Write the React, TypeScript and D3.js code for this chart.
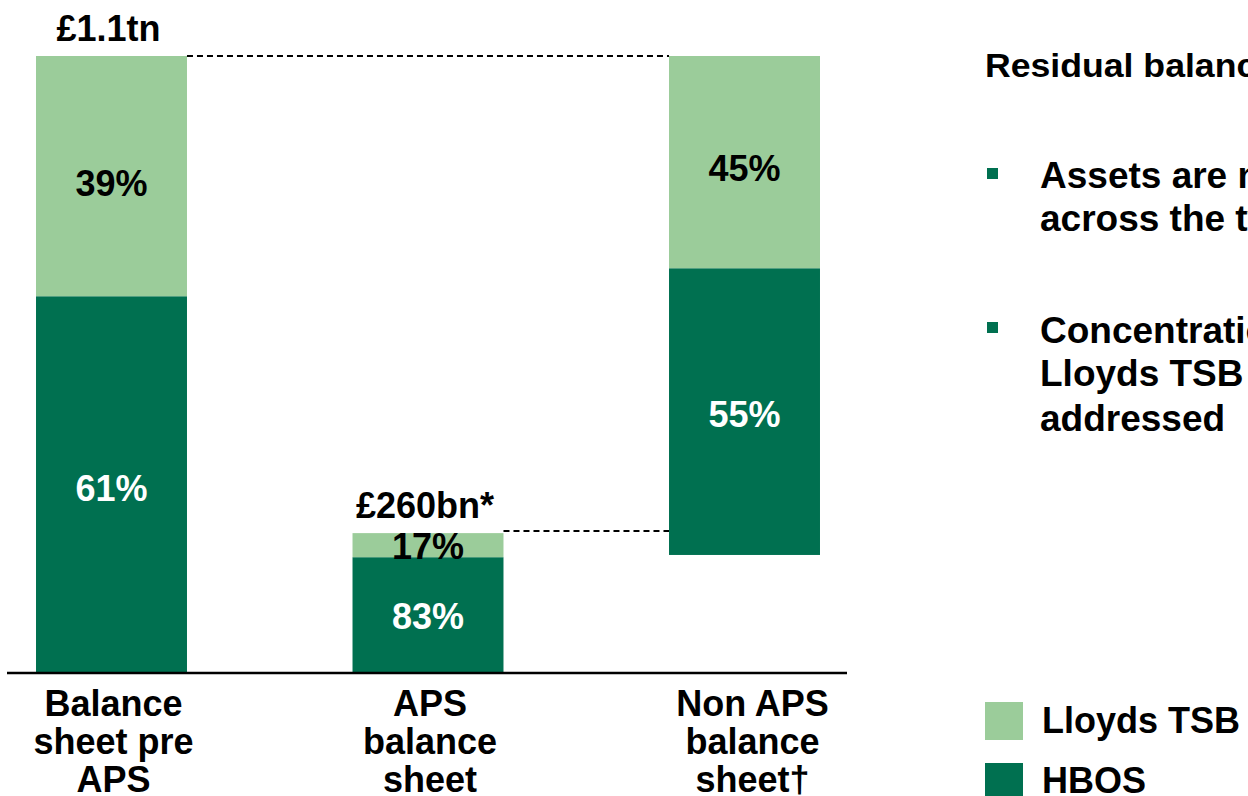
import React from "react";
import * as d3 from "d3";

const categories = ["Balance sheet pre APS", "APS balance sheet", "Non APS balance sheet†"];
const categoryLines = [["Balance", "sheet pre", "APS"], ["APS", "balance", "sheet"], ["Non APS", "balance", "sheet†"]];
// values in £bn (bar heights)
const baseValues = [0, 0, 209];
const hbosValues = [671, 205, 512];
const lloydsValues = [429, 43, 379];
const hbosLabels = ["61%", "83%", "55%"];
const lloydsLabels = ["39%", "17%", "45%"];
const totalLabels = ["£1.1tn", "£260bn*", ""];
const connectorLevels = [1100, 252];
const connectorFrom = [0, 1];
const legendItems = ["Lloyds TSB", "HBOS"];

const LIGHT = "#9BCC9A";
const DARK = "#007050";
const FONT = "'Liberation Sans', Arial, sans-serif";

export default function App() {
  const W = 1248, H = 796;
  const x = d3.scaleBand<string>().domain(categories).range([8, 848]).paddingInner(0.523).paddingOuter(0.0885);
  const y = d3.scaleLinear().domain([0, 1100]).range([672, 56]);
  const bw = x.bandwidth();

  return (
    <svg width={W} height={H} style={{ position: "absolute", left: 0, top: 0, overflow: "hidden" }} fontFamily={FONT} fontWeight="bold">
      <rect width={W} height={H} fill="#fff" />
      {categories.map((c, i) => {
        const x0 = x(c)!;
        const cx = x0 + bw / 2;
        const b = baseValues[i];
        const h = hbosValues[i];
        const l = lloydsValues[i];
        const yHb = y(b + h);
        const yTop = y(b + h + l);
        return (
          <g key={c}>
            <rect x={x0} y={yHb} width={bw} height={y(b) - yHb} fill={DARK} />
            <rect x={x0} y={yTop} width={bw} height={yHb - yTop} fill={LIGHT} />
            <text x={cx} y={yHb + (y(b) - yHb) * 0.51 + 13} textAnchor="middle" fontSize={36} fill="#fff">{hbosLabels[i]}</text>
            <text x={cx} y={yTop + (yHb - yTop) * 0.53 + 13} textAnchor="middle" fontSize={36} fill="#000">{lloydsLabels[i]}</text>
            {totalLabels[i] && (
              <text x={cx - 3} y={yTop - 15} textAnchor="middle" fontSize={36} fill="#000">{totalLabels[i]}</text>
            )}
            {categoryLines[i].map((ln, j) => (
              <text key={j} x={cx + (i === 2 ? 8 : 2)} y={716 + j * 38} textAnchor="middle" fontSize={36} fill="#000">{ln}</text>
            ))}
          </g>
        );
      })}
      {connectorLevels.map((v, k) => {
        const i = connectorFrom[k];
        return (
          <line key={k} x1={x(categories[i])! + bw} x2={x(categories[2])!} y1={y(v)} y2={y(v)}
            stroke="#000" strokeWidth={2} strokeDasharray="6 4" />
        );
      })}
      <line x1={7} x2={847} y1={673} y2={673} stroke="#000" strokeWidth={2.5} />

      <text x={985} y={77} fontSize={33} fill="#000" transform="translate(985,0) scale(1.08,1) translate(-985,0)">Residual balance sheet</text>
      <rect x={987} y={168} width={11} height={11} fill={DARK} />
      <text x={1040} y={188} fontSize={37} fill="#000">Assets are more evenly spread</text>
      <text x={1040} y={231} fontSize={37} fill="#000">across the two banks</text>
      <rect x={987} y={322} width={11} height={11} fill={DARK} />
      <text x={1040} y={343} fontSize={37} fill="#000">Concentration risk in</text>
      <text x={1040} y={386} fontSize={37} fill="#000">Lloyds TSB portfolios</text>
      <text x={1040} y={431} fontSize={37} fill="#000">addressed</text>

      {legendItems.map((name, i) => (
        <g key={name}>
          <rect x={985} y={702 + i * 61} width={38} height={38} fill={i === 0 ? LIGHT : DARK} />
          <text x={1042} y={733 + i * 60} fontSize={36} fill="#000">{name}</text>
        </g>
      ))}
    </svg>
  );
}
